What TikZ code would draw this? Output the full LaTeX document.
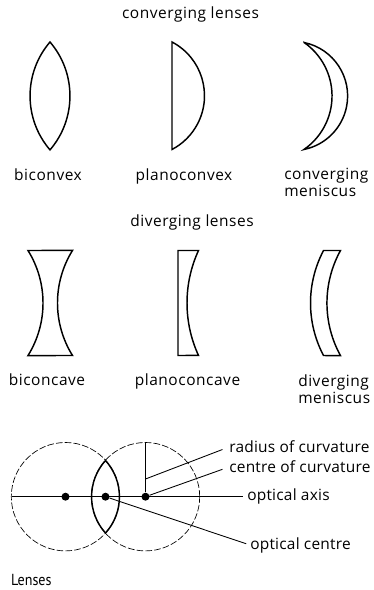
\documentclass[tikz,border=0pt]{standalone}
\usepackage{fontspec}
\setmainfont[LetterSpace=3.5]{Open Sans}
\newfontfamily\capfont{PT Sans}
\tikzset{
  lens/.style={line width=1.1pt, line join=miter},
  lbl/.style={inner sep=0pt, font=\fontsize{11.6}{12.75}\selectfont},
  partlbl/.style={lbl, anchor=west, font=\fontsize{11.6}{12.75}\selectfont\addfontfeature{LetterSpace=1.5}},
  leader/.style={line width=0.65pt},
  dot/.style={circle, fill=black, inner sep=0pt, minimum size=6pt},
  guide/.style={line width=0.5pt, dash pattern=on 5pt off 1.6pt},
}
\begin{document}
\begin{tikzpicture}[x=0.75pt, y=0.75pt]
        \useasboundingbox (0,0) rectangle (374,590);

        % Converging lenses
        \node[lbl, anchor=base] (convtitle) at (190.5,571.5) {converging lenses};
        \draw[lens] (50,548) arc[start angle=40.6, end angle=-40.6, radius=82.9]
            arc[start angle=220.6, end angle=139.4, radius=82.9] -- cycle;
        \draw[lens] (172,548) arc[start angle=62.3, end angle=-62.3, radius=60.7] -- cycle;
        \draw[lens] (304,547.5) arc[start angle=78.4, end angle=-78.4, radius=54.6]
            arc[start angle=-55.3, end angle=55.3, radius=65.1] -- cycle;
        \node[lbl, anchor=base] (biconvex) at (48,409.3) {biconvex};
        \node[lbl, anchor=base] (planoconvex) at (184,409.3) {planoconvex};
        \node[lbl, anchor=west, align=left] (convmeniscus) at (284,407.5) {converging\\meniscus};

        % Diverging lenses
        \node[lbl, anchor=base] (divtitle) at (192,363.3) {diverging lenses};
        \draw[lens] (28,339.5) arc[start angle=31.9, end angle=-31.9, radius=99.4]
            -- (72.5,234.5) arc[start angle=211.9, end angle=148.1, radius=99.4] -- cycle;
        \draw[lens] (178,339.5) -- (198.5,339.5)
            arc[start angle=155.3, end angle=204.7, radius=125.6] -- (178,234.5) -- cycle;
        \draw[lens] (323.5,339.5) -- (340.5,339.5)
            arc[start angle=151.1, end angle=208.9, radius=108.8]
            -- (323.5,234.5) arc[start angle=207.8, end angle=152.2, radius=112.5] -- cycle;
        \node[lbl, anchor=base] (biconcave) at (47,204.3) {biconcave};
        \node[lbl, anchor=base] (planoconcave) at (187.5,204.3) {planoconcave};
        \node[lbl, anchor=west, align=left] (divmeniscus) at (298,200.5) {diverging\\meniscus};

        % Lens geometry
        \node[dot] (leftcentre) at (65.5,93.3) {};
        \node[dot] (opticalcentre) at (105.5,93.3) {};
        \node[dot] (rightcentre) at (145.5,93.3) {};
        \draw[guide] (leftcentre) circle (54.2);
        \draw[guide] (rightcentre) circle (54.2);
        \draw[lens] (105.5,129.5) arc[start angle=42, end angle=-42, radius=54.2]
            arc[start angle=222, end angle=138, radius=54.2] -- cycle;

        \coordinate (axisstart) at (12,93.3);
        \coordinate (radiustop) at (145.5,147.7);
        \coordinate (radiusmid) at (145.5,111);
        \node[partlbl] (radiuslabel) at (229,143) {radius of curvature};
        \node[partlbl] (centrelabel) at (229,123) {centre of curvature};
        \node[partlbl] (axislabel) at (247,94) {optical axis};
        \node[partlbl] (opticallabel) at (250,45) {optical centre};

        \draw[leader, line width=0.9pt, shorten >=3pt] (axisstart) -- (axislabel.west |- axisstart);
        \draw[leader, line width=0.9pt] (radiustop) -- (rightcentre);
        \draw[leader, shorten >=5.25pt] (radiusmid) -- (radiuslabel.west);
        \draw[leader, shorten >=5.25pt] (rightcentre) -- (centrelabel.west);
        \draw[leader, shorten >=3pt] (opticalcentre) -- (opticallabel.west);

        \node[anchor=west, inner sep=0pt, xscale=0.88, font=\capfont\fontsize{12}{14}\selectfont] (caption) at (11,10) {Lenses};
\end{tikzpicture}
\end{document}
